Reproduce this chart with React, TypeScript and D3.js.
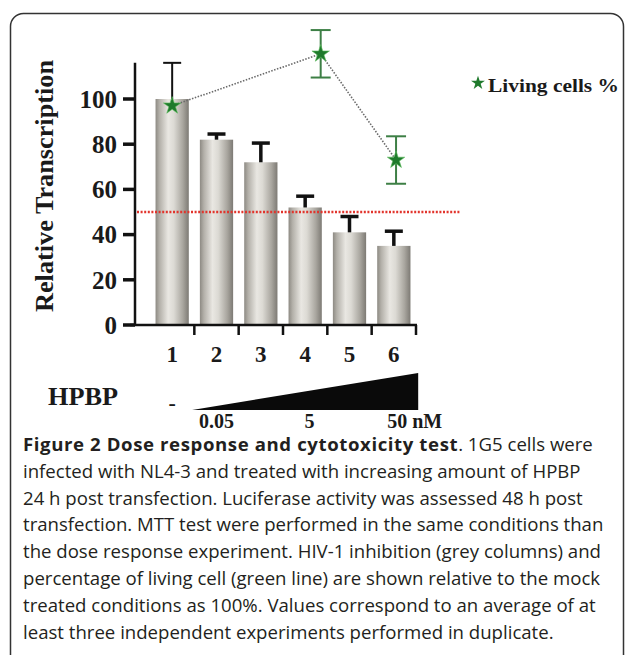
import * as d3 from 'd3';

const lanes = [1, 2, 3, 4, 5, 6];
const transcription = [100, 82, 72, 52, 41, 35];
const transcriptionErr = [16, 2.5, 8.5, 5, 7, 6.5];

const livingLane = [1, 4.35, 6.05];
const livingCells = [97, 120, 73];
const livingErr = [10.5, 10.5, 10.5];

const yTicks = [0, 20, 40, 60, 80, 100];
const halfMaxLine = 50;

const doseLane = [2, 4.1, 5.85];
const doseLabels = ['0.05', '5', '50 nM'];

const captionLines: { bold?: string; text: string }[] = [
  { bold: 'Figure 2 Dose response and cytotoxicity test', text: '. 1G5 cells were' },
  { text: 'infected with NL4-3 and treated with increasing amount of HPBP' },
  { text: '24 h post transfection. Luciferase activity was assessed 48 h post' },
  { text: 'transfection. MTT test were performed in the same conditions than' },
  { text: 'the dose response experiment. HIV-1 inhibition (grey columns) and' },
  { text: 'percentage of living cell (green line) are shown relative to the mock' },
  { text: 'treated conditions as 100%. Values correspond to an average of at' },
  { text: 'least three independent experiments performed in duplicate.' },
];

const W = 627;
const H = 655;
const serif = '"Liberation Serif", "Times New Roman", serif';

const App = () => {
  const x = d3.scaleLinear().domain([0.5, 6.5]).range([150, 416]);
  const y = d3.scaleLinear().domain([0, 100]).range([325, 99]);
  const step = x(2) - x(1);
  const barW = step * 0.75;
  const axisX = 135;
  const star = d3.symbol().type(d3.symbolStar);

  const living = livingLane.map((l, i) => ({ l, v: livingCells[i], e: livingErr[i] }));
  const line = d3
    .line<{ l: number; v: number }>()
    .x((d) => x(d.l))
    .y((d) => y(d.v));

  return (
    <svg
      width={W}
      height={H}
      style={{ position: 'absolute', left: 0, top: 0, background: '#fff' }}
    >
      <defs>
        <linearGradient id="barGrad" x1="0" x2="1" y1="0" y2="0">
          <stop offset="0%" stopColor="#8d8a83" />
          <stop offset="12%" stopColor="#b3b0a9" />
          <stop offset="38%" stopColor="#e9e7e2" />
          <stop offset="55%" stopColor="#dcdad4" />
          <stop offset="82%" stopColor="#a9a69f" />
          <stop offset="100%" stopColor="#7d7a74" />
        </linearGradient>
      </defs>

      {/* frame */}
      <rect x={10.5} y={13.5} width={613} height={720} rx={13} fill="none" stroke="#333" strokeWidth={1.5} />

      {/* bars */}
      {lanes.map((l, i) => (
        <rect
          key={`b${l}`}
          x={x(l) - barW / 2}
          y={y(transcription[i])}
          width={barW}
          height={y(0) - y(transcription[i])}
          fill="url(#barGrad)"
        />
      ))}

      {/* bar error bars */}
      {lanes.map((l, i) => {
        const top = y(transcription[i] + transcriptionErr[i]);
        const w = i === 0 ? 2 : 3.5;
        return (
          <g key={`e${l}`} stroke="#111" strokeWidth={w}>
            <line x1={x(l)} x2={x(l)} y1={y(transcription[i])} y2={top} />
            <line x1={x(l) - 9} x2={x(l) + 9} y1={top} y2={top} />
          </g>
        );
      })}

      {/* 50% line */}
      <line
        x1={axisX + 2}
        x2={460}
        y1={y(halfMaxLine)}
        y2={y(halfMaxLine)}
        stroke="#e2342c"
        strokeWidth={2.5}
        strokeDasharray="2 1.6"
      />

      {/* axes */}
      <line x1={axisX} x2={axisX} y1={y(116)} y2={y(0)} stroke="#111" strokeWidth={2.5} />
      <line x1={130} x2={x(6.5) + 1} y1={y(0)} y2={y(0)} stroke="#111" strokeWidth={2.5} />
      {yTicks.map((t) => (
        <g key={`yt${t}`}>
          <line x1={axisX - 12} x2={axisX} y1={y(t)} y2={y(t)} stroke="#111" strokeWidth={3.5} />
          <text
            x={117}
            y={y(t)}
            dy="0.35em"
            textAnchor="end"
            fontFamily={serif}
            fontWeight="bold"
            fontSize={25}
            fill="#1a1a1a"
          >
            {t}
          </text>
        </g>
      ))}
      {lanes.map((l) => (
        <g key={`xt${l}`}>
          <line x1={x(l + 0.5)} x2={x(l + 0.5)} y1={y(0)} y2={y(0) + 10} stroke="#111" strokeWidth={2.5} />
          <text
            x={x(l)}
            y={362}
            textAnchor="middle"
            fontFamily={serif}
            fontWeight="bold"
            fontSize={23}
            fill="#1a1a1a"
          >
            {l}
          </text>
        </g>
      ))}

      <text
        transform={`translate(53,186) rotate(-90)`}
        textAnchor="middle"
        fontFamily={serif}
        fontWeight="bold"
        fontSize={25}
        fill="#1a1a1a"
        textLength={252}
        lengthAdjust="spacingAndGlyphs"
      >
        Relative Transcription
      </text>

      {/* living cells */}
      <path d={line(living) ?? ''} fill="none" stroke="#6a6a6a" strokeWidth={1.6} strokeDasharray="1.5 1.5" />
      {living.map((d, i) => (
        <g key={`lv${i}`}>
          {i > 0 && (
            <g stroke="#3d7f45" strokeWidth={2}>
              <line x1={x(d.l)} x2={x(d.l)} y1={y(d.v - d.e)} y2={y(d.v + d.e)} />
              <line x1={x(d.l) - 10} x2={x(d.l) + 10} y1={y(d.v + d.e)} y2={y(d.v + d.e)} />
              <line x1={x(d.l) - 10} x2={x(d.l) + 10} y1={y(d.v - d.e)} y2={y(d.v - d.e)} />
            </g>
          )}
          <path
            d={star.size(95)() ?? ''}
            transform={`translate(${x(d.l)},${y(d.v)})`}
            fill="#1f7a2c"
            stroke="#5fbf5f"
            strokeWidth={0.6}
          />
        </g>
      ))}

      {/* legend */}
      <path d={star.size(60)() ?? ''} transform="translate(478,83)" fill="#1f7a2c" />
      <text
        x={488}
        y={92}
        fontFamily={serif}
        fontWeight="bold"
        fontSize={18}
        fill="#1a1a1a"
        textLength={131}
        lengthAdjust="spacingAndGlyphs"
      >
        Living cells %
      </text>

      {/* HPBP dose wedge */}
      <text
        x={48}
        y={405}
        fontFamily={serif}
        fontWeight="bold"
        fontSize={26}
        fill="#1a1a1a"
        textLength={70}
        lengthAdjust="spacingAndGlyphs"
      >
        HPBP
      </text>
      <text x={x(1)} y={410} textAnchor="middle" fontFamily={serif} fontWeight="bold" fontSize={22} fill="#1a1a1a">
        -
      </text>
      <path
        d={`M${x(1.45)},410 L${x(6.55)},373 L${x(6.55)},410 Z`}
        fill="#0a0a0a"
      />
      {doseLabels.map((lab, i) => (
        <text
          key={lab}
          x={x(doseLane[i])}
          y={428}
          textAnchor={i === 2 ? 'start' : 'middle'}
          fontFamily={serif}
          fontWeight="bold"
          fontSize={20}
          fill="#1a1a1a"
        >
          {lab}
        </text>
      ))}

      {/* caption */}
      {captionLines.map((ln, i) => (
        <text
          key={`c${i}`}
          x={23}
          y={451 + i * 26.8}
          fontFamily='"Open Sans", sans-serif'
          fontSize={18.6}
          fill="#231f20"
        >
          {ln.bold && (
            <tspan fontWeight="bold" letterSpacing={0.6}>
              {ln.bold}
            </tspan>
          )}
          {ln.text}
        </text>
      ))}
    </svg>
  );
};

export default App;
